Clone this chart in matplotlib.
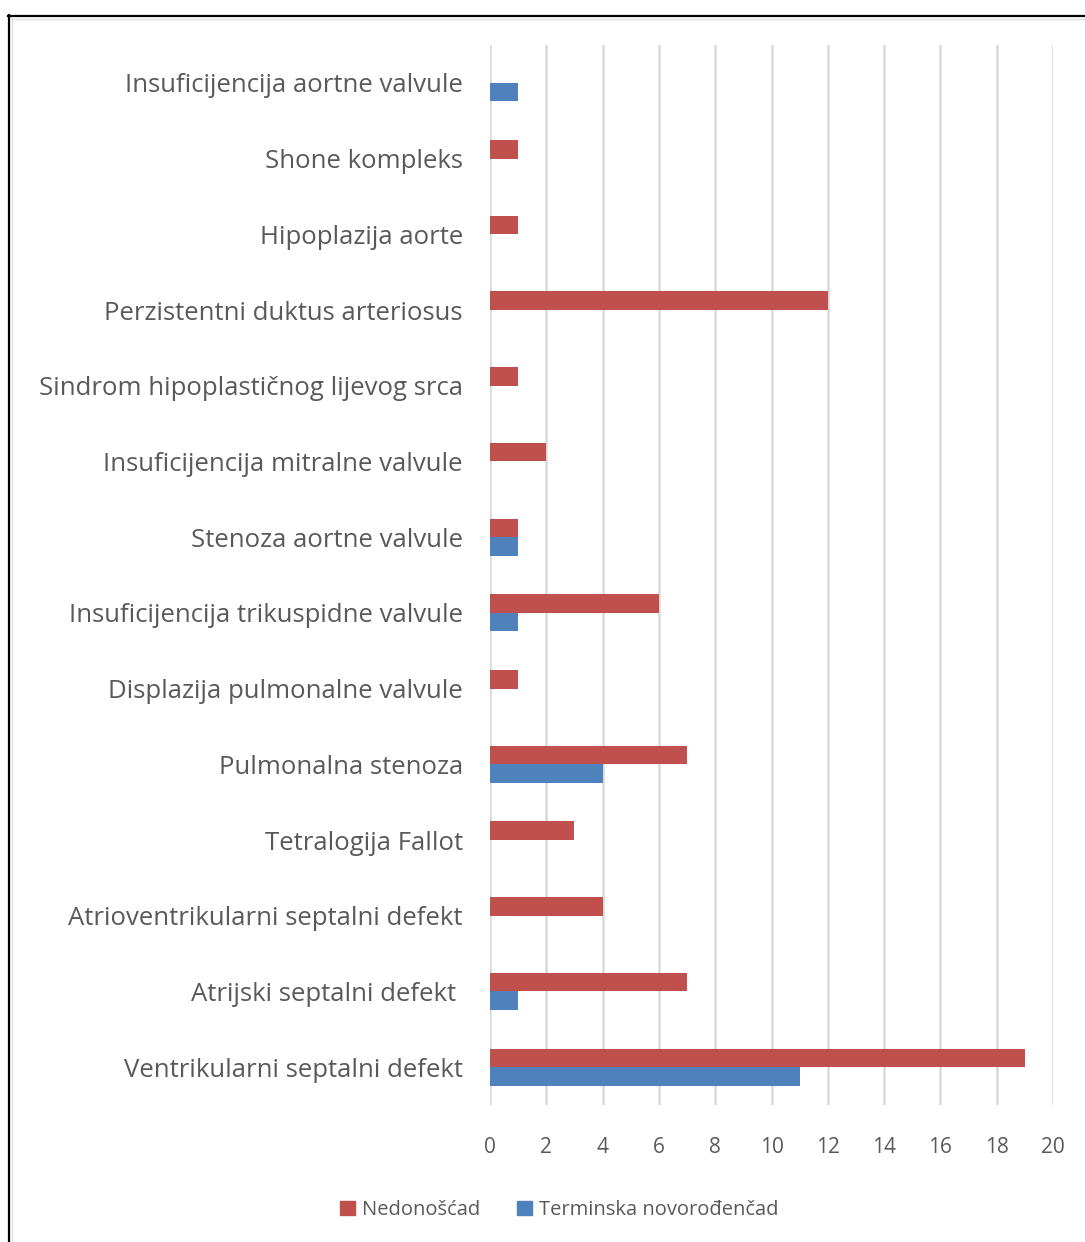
import matplotlib
matplotlib.use('Agg')
import matplotlib.pyplot as plt
from matplotlib.lines import Line2D
from matplotlib.patches import Patch
import numpy as np

plt.rcParams['font.family'] = ['Open Sans', 'DejaVu Sans']

# Categories, bottom to top
categories = [
    'Ventrikularni septalni defekt',
    'Atrijski septalni defekt ',
    'Atrioventrikularni septalni defekt',
    'Tetralogija Fallot',
    'Pulmonalna stenoza',
    'Displazija pulmonalne valvule',
    'Insuficijencija trikuspidne valvule',
    'Stenoza aortne valvule',
    'Insuficijencija mitralne valvule',
    'Sindrom hipoplastičnog lijevog srca',
    'Perzistentni duktus arteriosus',
    'Hipoplazija aorte',
    'Shone kompleks',
    'Insuficijencija aortne valvule',
]
nedonoscad = [19, 7, 4, 3, 7, 1, 6, 1, 2, 1, 12, 1, 1, 0]
terminska = [11, 1, 0, 0, 4, 0, 1, 1, 0, 0, 0, 0, 0, 1]
x_ticks = [0, 2, 4, 6, 8, 10, 12, 14, 16, 18, 20]

RED = '#C0504D'
BLUE = '#4F81BD'
TEXT = '#595959'
GRID = '#D9D9D9'

W, H = 1085, 1242
fig = plt.figure(figsize=(W / 100, H / 100), dpi=100)
fig.patch.set_facecolor('white')

ax = fig.add_axes([490 / W, 1 - 1105 / H, (1053 - 490) / W, (1105 - 45) / H])

y = np.arange(len(categories))
h = 0.245
ax.barh(y + h / 2, nedonoscad, height=h, color=RED, label='Nedonošćad', zorder=3)
ax.barh(y - h / 2, terminska, height=h, color=BLUE, label='Terminska novorođenčad', zorder=3)

ax.set_xlim(0, 20)
ax.set_ylim(-0.5, len(categories) - 0.5)
ax.set_xticks(x_ticks)
ax.set_yticks(y)
ax.set_yticklabels(categories, fontsize=18.5, color=TEXT)
ax.tick_params(axis='y', length=0, pad=19.5)
ax.tick_params(axis='x', length=0, pad=23, labelsize=15, labelcolor=TEXT)

ax.grid(axis='x', color=GRID, linewidth=1.8, zorder=0)
for s in ax.spines.values():
    s.set_visible(False)

# frame lines at top and left edge of the image
fig.add_artist(Line2D([8.5 / W, 8.5 / W], [0, 1 - 15 / H], color='black', linewidth=1.6,
                      transform=fig.transFigure))
fig.add_artist(Line2D([8 / W, 1], [1 - 15.5 / H, 1 - 15.5 / H], color='black', linewidth=1.6,
                      transform=fig.transFigure))
fig.add_artist(Line2D([11.5 / W, 11.5 / W], [0, 1 - 18 / H], color='#E0E0E0', linewidth=1,
                      transform=fig.transFigure))
fig.add_artist(Line2D([11 / W, 1], [1 - 18.5 / H, 1 - 18.5 / H], color='#E0E0E0', linewidth=1,
                      transform=fig.transFigure))

handles = [Patch(color=RED, label='Nedonošćad'),
           Patch(color=BLUE, label='Terminska novorođenčad')]
fig.legend(handles=handles, loc='center', bbox_to_anchor=(559 / W, 1 - 1210 / H),
           ncol=2, frameon=False, fontsize=14.5, labelcolor=TEXT,
           handlelength=0.75, handleheight=0.75, handletextpad=0.35, columnspacing=1.8)

fig.savefig('out.png', dpi=100, facecolor='white')
